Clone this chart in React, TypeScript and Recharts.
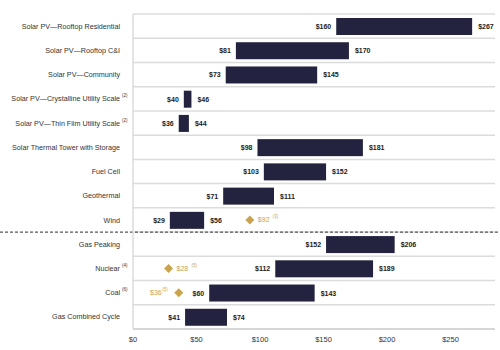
import {
  ComposedChart,
  Bar,
  Scatter,
  XAxis,
  YAxis,
  CartesianGrid,
} from 'recharts';

const categories = [
  'Solar PV—Rooftop Residential',
  'Solar PV—Rooftop C&I',
  'Solar PV—Community',
  'Solar PV—Crystalline Utility Scale',
  'Solar PV—Thin Film Utility Scale',
  'Solar Thermal Tower with Storage',
  'Fuel Cell',
  'Geothermal',
  'Wind',
  'Gas Peaking',
  'Nuclear',
  'Coal',
  'Gas Combined Cycle',
];
const categoryNotes = ['', '', '', '(2)', '(2)', '', '', '', '', '', '(4)', '(6)', ''];

const lowCost = [160, 81, 73, 40, 36, 98, 103, 71, 29, 152, 112, 60, 41];
const highCost = [267, 170, 145, 46, 44, 181, 152, 111, 56, 206, 189, 143, 74];

// single-point estimates shown as diamonds
const pointCost = [null, null, null, null, null, null, null, null, 92, null, 28, 36, null];
const pointNotes = ['', '', '', '', '', '', '', '', '(3)', '', '(5)', '(5)', ''];

const xTicks = [0, 50, 100, 150, 200, 250];
const rowBoundaries = [0, 1, 2, 3, 4, 5, 6, 7, 8, 9, 10, 11, 12, 13];
// renewables above the dashed divider, conventional below
const renewableRows = 9;

const NAVY = '#23233f';
const GOLD = '#c9a34f';
const FONT = 'Liberation Sans, Arial, sans-serif';

const data = categories.map((name, i) => ({
  name,
  note: categoryNotes[i],
  range: [lowCost[i], highCost[i]],
  low: lowCost[i],
  high: highCost[i],
  point: pointCost[i],
  pointNote: pointNotes[i],
}));

function CategoryTick(props: any) {
  const { x, y, payload } = props;
  const note = categoryNotes[categories.indexOf(payload.value)];
  return (
    <g>
      <text x={x} y={y} dy={2.6} textAnchor="end" fontSize={7.2} fill="#333" fontFamily={FONT}>
        {payload.value}
      </text>
      {note && (
        <text x={x + 2} y={y - 1.5} textAnchor="start" fontSize={4.5} fill="#333" fontFamily={FONT}>
          {note}
        </text>
      )}
    </g>
  );
}

function RangeBar(props: any) {
  const { x, y, width, height, payload } = props;
  const cy = y + height / 2;
  return (
    <g>
      <rect x={x} y={y} width={width} height={height} fill={NAVY} />
      <text
        x={x - 5}
        y={cy}
        dy={2.5}
        textAnchor="end"
        fontSize={7}
        fontWeight="bold"
        fill="#1c1c1c"
        fontFamily={FONT}
      >
        ${payload.low}
      </text>
      <text
        x={x + width + 6}
        y={cy}
        dy={2.5}
        textAnchor="start"
        fontSize={7}
        fontWeight="bold"
        fill="#1c1c1c"
        fontFamily={FONT}
      >
        ${payload.high}
      </text>
    </g>
  );
}

function PointMarker(props: any) {
  const { cx, cy, payload } = props;
  if (payload.point == null || !Number.isFinite(cx)) return <g />;
  const r = 4.5;
  // put the label on the left when it would run into the bar's low label
  const labelLeft = payload.point < payload.low && payload.low - payload.point < 35;
  return (
    <g>
      <polygon
        points={`${cx},${cy - r} ${cx + r},${cy} ${cx},${cy + r} ${cx - r},${cy}`}
        fill={GOLD}
      />
      {labelLeft ? (
        <g>
          <text x={cx - 17} y={cy} dy={2.5} textAnchor="end" fontSize={7} fill={GOLD} fontFamily={FONT}>
            ${payload.point}
          </text>
          <text x={cx - 16.5} y={cy - 1.5} textAnchor="start" fontSize={4.5} fill={GOLD} fontFamily={FONT}>
            {payload.pointNote}
          </text>
        </g>
      ) : (
        <g>
          <text x={cx + 8} y={cy} dy={2.5} textAnchor="start" fontSize={7} fill={GOLD} fontFamily={FONT}>
            ${payload.point}
          </text>
          <text x={cx + 23} y={cy - 1.5} textAnchor="start" fontSize={4.5} fill={GOLD} fontFamily={FONT}>
            {payload.pointNote}
          </text>
        </g>
      )}
    </g>
  );
}

// row separators sit on the band edges, not on the category centres
const rowLines = ({ offset }: any) =>
  rowBoundaries.map((b) => offset.top + (b * offset.height) / categories.length);

const dividerLine = ({ offset }: any) => [
  offset.top + (renewableRows * offset.height) / categories.length,
];

export default function App() {
  return (
    <div style={{ position: 'absolute', left: 0, top: 0, background: '#fff' }}>
      <ComposedChart
        width={500}
        height={350}
        data={data}
        layout="vertical"
        margin={{ top: 14, right: 5, bottom: 0, left: 0 }}
        style={{ fontFamily: FONT }}
      >
        <CartesianGrid
          vertical={false}
          horizontalCoordinatesGenerator={rowLines}
          stroke="#dcdcdc"
          strokeWidth={1.5}
        />
        <CartesianGrid
          x={0}
          width={500}
          vertical={false}
          horizontalCoordinatesGenerator={dividerLine}
          stroke="#555"
          strokeWidth={1.2}
          strokeDasharray="3 2"
        />
        <XAxis
          type="number"
          domain={[0, 285]}
          ticks={xTicks}
          tickFormatter={(v) => `$${v}`}
          height={21}
          tick={{ fontSize: 7.5, fill: '#333' }}
          tickLine={false}
          axisLine={{ stroke: '#d6d6d6', strokeWidth: 2 }}
        />
        <YAxis
          type="category"
          dataKey="name"
          width={133}
          tick={<CategoryTick />}
          tickLine={false}
          tickMargin={7}
          interval={0}
          axisLine={{ stroke: '#dcdcdc', strokeWidth: 1.5 }}
        />
        <Bar dataKey="range" barSize={17} shape={<RangeBar />} isAnimationActive={false} />
        <Scatter dataKey="point" shape={<PointMarker />} isAnimationActive={false} />
      </ComposedChart>
    </div>
  );
}
